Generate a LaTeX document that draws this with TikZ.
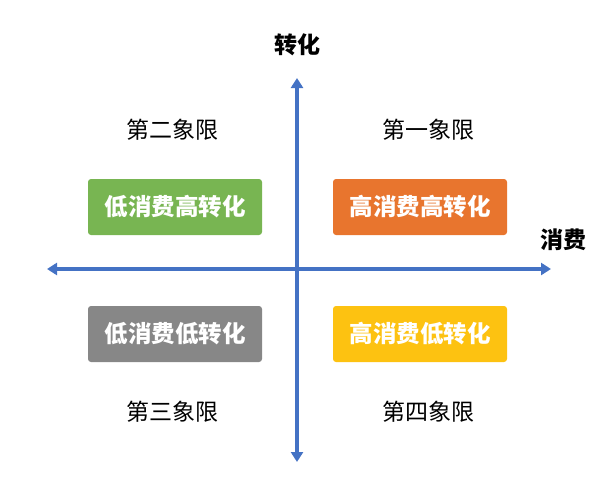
\documentclass[tikz,border=0pt]{standalone}
\usepackage{fontspec}
\setmainfont{Noto Sans CJK SC}
\usetikzlibrary{arrows.meta}
\definecolor{axisblue}{HTML}{4472C4}
\definecolor{qgreen}{HTML}{78B552}
\definecolor{qorange}{HTML}{E8752E}
\definecolor{qgray}{HTML}{878787}
\definecolor{qyellow}{HTML}{FDC211}
\begin{document}
\begin{tikzpicture}[x=1pt,y=-1pt,
  ax/.style={axisblue,line width=4pt,{Triangle[length=10pt,width=12pt]}-{Triangle[length=10pt,width=12pt]}},
  qbox/.style={rounded corners=3pt,minimum width=174pt,minimum height=56pt,text=white,font=\fontsize{23.5}{26}\selectfont\bfseries},
  qlab/.style={font=\fontsize{23}{26}\selectfont},
  axlab/.style={font=\fontsize{23}{26}\selectfont\bfseries}]
\useasboundingbox (0,0) rectangle (600,490);
\coordinate (top) at (297,78);
\coordinate (bot) at (297,462);
\coordinate (left) at (47,269);
\coordinate (right) at (551,269);
\draw[ax] (bot) -- (top);
\draw[ax] (left) -- (right);
\node[axlab] (ylab) at (297,45) {转化};
\node[axlab] (xlab) at (563,240) {消费};
\node[qlab] (q2) at (172,130) {第二象限};
\node[qlab] (q1) at (428,130) {第一象限};
\node[qlab] (q3) at (172,412) {第三象限};
\node[qlab] (q4) at (428,412) {第四象限};
\node[qbox,fill=qgreen] (b2) at (175,207) {低消费高转化};
\node[qbox,fill=qorange] (b1) at (420,207) {高消费高转化};
\node[qbox,fill=qgray] (b3) at (175,334) {低消费低转化};
\node[qbox,fill=qyellow] (b4) at (420,334) {高消费低转化};
\end{tikzpicture}
\end{document}
